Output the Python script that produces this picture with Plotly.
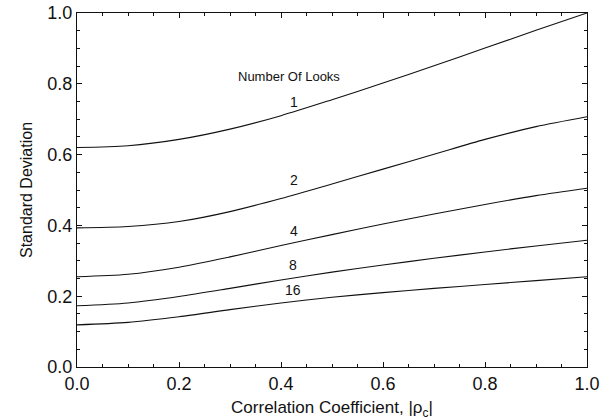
import plotly.graph_objects as go

# Correlation coefficient grid and standard deviation for each number of looks
rho = [0.0, 0.1, 0.2, 0.3, 0.4, 0.5, 0.6, 0.7, 0.8, 0.9, 1.0]
std_1 = [0.620, 0.625, 0.643, 0.672, 0.710, 0.755, 0.802, 0.851, 0.901, 0.951, 1.000]
std_2 = [0.393, 0.397, 0.411, 0.439, 0.476, 0.517, 0.559, 0.601, 0.643, 0.679, 0.707]
std_4 = [0.255, 0.262, 0.282, 0.311, 0.343, 0.374, 0.404, 0.432, 0.459, 0.484, 0.505]
std_8 = [0.173, 0.181, 0.199, 0.222, 0.246, 0.268, 0.288, 0.307, 0.325, 0.342, 0.358]
std_16 = [0.119, 0.126, 0.142, 0.162, 0.181, 0.197, 0.210, 0.222, 0.233, 0.244, 0.255]

looks = ["1", "2", "4", "8", "16"]
series = [std_1, std_2, std_4, std_8, std_16]
label_x = [0.426, 0.426, 0.426, 0.424, 0.424]
label_y = [0.749, 0.528, 0.384, 0.288, 0.217]

x_ticks = [0.0, 0.2, 0.4, 0.6, 0.8, 1.0]
y_ticks = [0.0, 0.2, 0.4, 0.6, 0.8, 1.0]

FONT = "Liberation Sans, Arial, Helvetica, sans-serif"
INK = "#111111"

fig = go.Figure()
for n, ys in zip(looks, series):
    fig.add_trace(go.Scatter(
        x=rho, y=ys, mode="lines", name=n,
        line=dict(color=INK, width=1.1, shape="spline", smoothing=0.8),
        showlegend=False, hoverinfo="skip",
    ))

for n, lx, ly in zip(looks, label_x, label_y):
    fig.add_annotation(x=lx, y=ly, text=n, showarrow=False,
                       font=dict(family=FONT, size=14, color=INK))

fig.add_annotation(x=0.416, y=0.82, text="Number Of Looks", showarrow=False,
                   font=dict(family=FONT, size=13, color=INK))

axis_common = dict(
    showgrid=False, zeroline=False, showline=True, linecolor=INK, linewidth=1,
    mirror="ticks", ticks="inside", ticklen=5, tickwidth=1, tickcolor=INK,
    tickfont=dict(family=FONT, size=18, color=INK), automargin=False,
    minor=dict(ticks="inside", ticklen=3, tickwidth=1, tickcolor=INK, dtick=0.05),
)

fig.update_xaxes(
    range=[0, 1.0], tickvals=x_ticks, ticktext=[f"{v:.1f}" for v in x_ticks],
    title=dict(text="Correlation Coefficient, |ρ<sub>c</sub>|",
               font=dict(family=FONT, size=17, color=INK), standoff=10),
    **axis_common,
)
fig.update_yaxes(
    range=[0, 1.0], tickvals=y_ticks, ticktext=[f"{v:.1f}" for v in y_ticks],
    title=dict(text="Standard Deviation",
               font=dict(family=FONT, size=16, color=INK), standoff=10),
    **axis_common,
)

fig.update_layout(
    width=609, height=420,
    margin=dict(l=77, r=22, t=13, b=53),
    paper_bgcolor="white", plot_bgcolor="white",
)

fig.write_html("out.html")
